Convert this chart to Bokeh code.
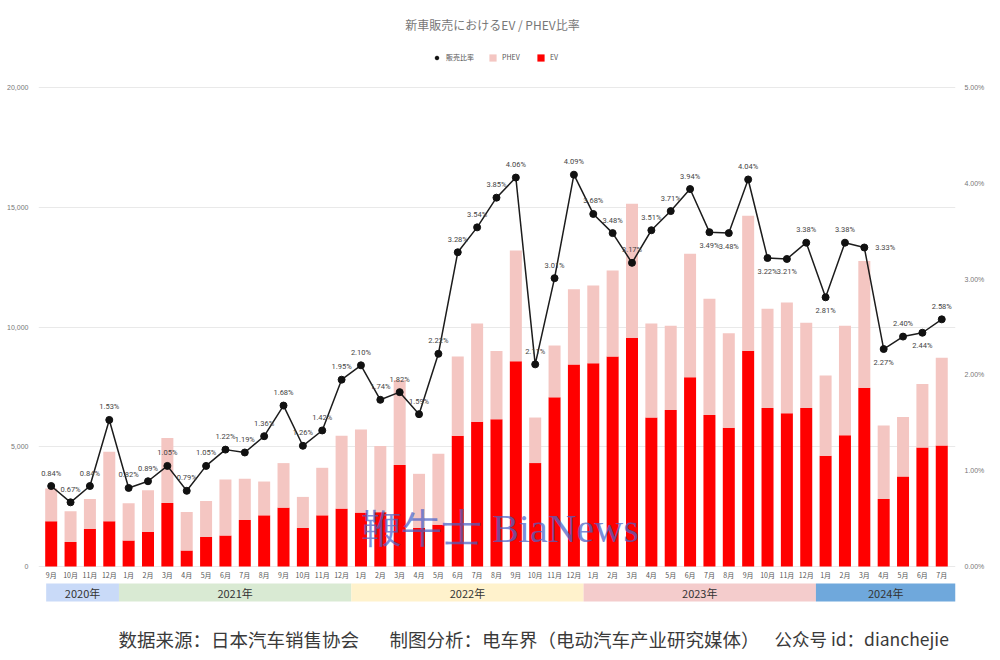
from bokeh.plotting import figure
from bokeh.models import (Range1d, LinearAxis, FixedTicker, NumeralTickFormatter,
                          PrintfTickFormatter, ColumnDataSource, Legend, LegendItem)
from bokeh.core.properties import value
from bokeh.embed import file_html
from bokeh.resources import INLINE

# ---------------- data ----------------
months = ["9月", "10月", "11月", "12月",
          "1月", "2月", "3月", "4月", "5月", "6月", "7月", "8月", "9月", "10月", "11月", "12月",
          "1月", "2月", "3月", "4月", "5月", "6月", "7月", "8月", "9月", "10月", "11月", "12月",
          "1月", "2月", "3月", "4月", "5月", "6月", "7月", "8月", "9月", "10月", "11月", "12月",
          "1月", "2月", "3月", "4月", "5月", "6月", "7月"]
years = ["2020年", "2021年", "2022年", "2023年", "2024年"]
months_per_year = [4, 12, 12, 12, 7]

ev = [1886, 1020, 1579, 1886,
      1090, 1439, 2654, 670, 1229, 1299, 1942, 2137, 2459, 1607, 2137, 2417,
      2250, 2270, 4233, 1607, 1746, 5462, 6049, 6147, 8565, 4317, 7063, 8434,
      8482, 8768, 9554, 6217, 6538, 7900, 6328, 5798, 9004, 6622, 6399, 6622,
      4624, 5476, 7460, 2822, 3758, 4973, 5057]
phev = [1369, 1285, 1243, 2906,
        1550, 1746, 2710, 1607, 1509, 2333, 1718, 1411, 1858, 1299, 1984, 3045,
        3475, 2759, 3557, 2263, 2962, 3306, 4101, 2853, 4628, 1903, 2164, 3146,
        3250, 3590, 5594, 3933, 3517, 5160, 4852, 3937, 5643, 4143, 4623, 3558,
        3350, 4572, 5300, 3063, 2488, 2647, 3655]
share = [0.84, 0.67, 0.84, 1.53,
         0.82, 0.89, 1.05, 0.79, 1.05, 1.22, 1.19, 1.36, 1.68, 1.26, 1.42, 1.95,
         2.10, 1.74, 1.82, 1.59, 2.22, 3.28, 3.54, 3.85, 4.06, 2.11, 3.01, 4.09,
         3.68, 3.48, 3.17, 3.51, 3.71, 3.94, 3.49, 3.48, 4.04, 3.22, 3.21, 3.38,
         2.81, 3.38, 3.33, 2.27, 2.40, 2.44, 2.58]
count_ticks = [0, 5000, 10000, 15000, 20000]
share_ticks = [0, 1, 2, 3, 4, 5]

# label placement (style): indices whose labels sit below / to the right
below_idx = {34, 35, 37, 38, 40, 43, 45}
right_idx = {42}

# ---------------- geometry ----------------
FIG_W, FIG_H = 998, 658
BL = 38
BR = FIG_W - 955
PX0, DX = 50.7, 19.36          # page x of first bar, px per month
PY0, KY = 566.0, 20000 / 479   # page y of zero, units per px
RATIO = 4000                   # 1% == 4000 units

X_START = (BL - PX0) / DX
X_END = (FIG_W - BR - PX0) / DX
Y_END = PY0 * KY
Y_START = (PY0 - FIG_H) * KY


def dx(px):
    return (px - PX0) / DX


def dy(py):
    return (PY0 - py) * KY


RED = "#ff0000"
PINK = "#f4c6c2"
band_colors = ["#c9daf8", "#d9ead3", "#fff2cc", "#f4cccc", "#6fa8dc"]

p = figure(width=FIG_W, height=FIG_H, output_backend="svg", toolbar_location=None,
           title=None, x_range=Range1d(X_START, X_END), y_range=Range1d(Y_START, Y_END),
           x_axis_location=None, y_axis_location="left",
           min_border_left=BL, min_border_right=BR, min_border_top=0, min_border_bottom=0)
p.outline_line_color = None
p.background_fill_color = "white"
p.extra_y_ranges = {"pct": Range1d(Y_START / RATIO, Y_END / RATIO)}

# left axis
ya = p.yaxis[0]
ya.ticker = FixedTicker(ticks=count_ticks)
ya.formatter = NumeralTickFormatter(format="0,0")
ya.axis_line_color = None
ya.major_tick_line_color = None
ya.minor_tick_line_color = None
ya.major_label_text_font_size = "7px"
ya.major_label_text_color = "#777777"
ya.major_label_standoff = 4

# right axis
ra = LinearAxis(y_range_name="pct", ticker=FixedTicker(ticks=share_ticks),
                formatter=PrintfTickFormatter(format="%.2f%%"))
ra.axis_line_color = None
ra.major_tick_line_color = None
ra.minor_tick_line_color = None
ra.major_label_text_font_size = "7px"
ra.major_label_text_color = "#777777"
ra.major_label_standoff = 3
p.add_layout(ra, "right")

p.xgrid.visible = False
p.ygrid.ticker = FixedTicker(ticks=count_ticks)
p.ygrid.grid_line_color = "#e9e9e9"

x = list(range(len(months)))
src = ColumnDataSource(dict(x=x, ev=ev, phev=phev, share=share, month=months))

bars = p.vbar_stack(["ev", "phev"], x="x", width=0.62, color=[RED, PINK], source=src,
                    line_color=None)

line = p.line("x", "share", source=src, y_range_name="pct", line_color="#1c1c1c", line_width=1.5)
pts = p.scatter("x", "share", source=src, y_range_name="pct", size=7, fill_color="#111111",
                line_color="#111111")

# share labels
off = 13 * KY / RATIO
lx, ly, lt = [], [], []
for i, s in enumerate(share):
    if i in below_idx:
        lx.append(i); ly.append(s - off)
    elif i in right_idx:
        lx.append(i + 1.08); ly.append(s)
    else:
        lx.append(i); ly.append(s + off)
    lt.append(f"{s:.2f}%")
p.text(x=lx, y=ly, text=lt, y_range_name="pct", text_font=value("Roboto"),
       text_font_size="7.5px", text_color="#444444", text_align="center",
       text_baseline="middle")

# month labels
p.text(x="x", y=dy(574), text="month", source=src, text_font=value("Noto Sans CJK JP"),
       text_font_size="7px", text_color="#555555", text_align="center", text_baseline="middle")

# year bands
lefts, rights = [], []
start = 0
for n in months_per_year:
    lefts.append(start - 0.5)
    rights.append(start + n - 0.5)
    start += n
lefts[0] = -0.26
rights[-1] = X_END
p.quad(left=lefts, right=rights, top=dy(583), bottom=dy(601), fill_color=band_colors,
       line_color=None)
p.text(x=[(a + b) / 2 for a, b in zip(lefts, rights)], y=dy(592), text=years,
       text_font=value("Noto Sans CJK SC"), text_font_size="11px", text_color="#333333",
       text_align="center", text_baseline="middle")

# watermark
p.text(x=[dx(500)], y=[dy(528)], text=["鞭牛士 BiaNews"], text_font=value("Liberation Serif"),
       text_font_size="40px", text_color="#4a63c9", text_alpha=0.72, text_align="center",
       text_baseline="middle")

# title
p.text(x=[dx(492)], y=[dy(24)], text=["新車販売におけるEV / PHEV比率"],
       text_font=value("Noto Sans CJK JP"), text_font_size="12px", text_color="#777777",
       text_align="center", text_baseline="middle")

# footer
footer = ["数据来源：日本汽车销售协会", "制图分析：电车界（电动汽车产业研究媒体）", "公众号 id：dianchejie"]
p.text(x=[dx(118), dx(389)], y=dy(638), text=footer[:2],
       text_font=value("Noto Sans CJK SC"), text_font_size="18.5px", text_color="#3a3a3a",
       text_align="left", text_baseline="middle")
p.text(x=[dx(774)], y=dy(638), text=footer[2:],
       text_font=value("Noto Sans CJK SC"), text_font_size="17.5px", text_color="#3a3a3a",
       text_align="left", text_baseline="middle")

legend = Legend(items=[LegendItem(label="販売比率", renderers=[pts]),
                       LegendItem(label="PHEV", renderers=[bars[1]]),
                       LegendItem(label="EV", renderers=[bars[0]])],
                orientation="horizontal", location=(394, FIG_H - 62))
legend.label_text_font = "Noto Sans CJK JP"
legend.label_text_font_size = "7px"
legend.label_text_color = "#555555"
legend.label_height = 10
legend.glyph_height = 9
legend.glyph_width = 9
legend.label_standoff = 5
legend.spacing = 14
legend.padding = 0
legend.margin = 0
legend.border_line_color = None
legend.background_fill_alpha = 0
p.add_layout(legend)

open("out.html", "w").write(file_html(p, INLINE))
